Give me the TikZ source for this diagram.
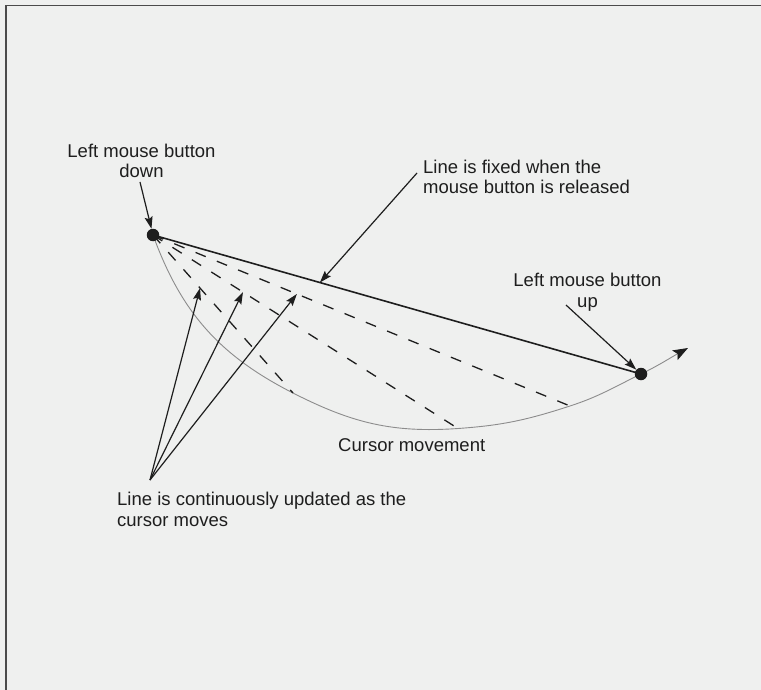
\documentclass[tikz,border=0pt]{standalone}
\usepackage{fontspec}
\setmainfont{Liberation Sans}
\usetikzlibrary{arrows.meta}
\definecolor{paper}{RGB}{239,240,239}
\definecolor{ink}{RGB}{30,30,30}
\definecolor{trail}{RGB}{140,140,140}
\definecolor{framegray}{RGB}{75,75,75}
\begin{document}
\begin{tikzpicture}[x=1pt,y=1pt,
  caption/.style={font=\fontsize{18.5}{20.5}\selectfont, text=ink, inner sep=0pt},
  dot/.style={circle, fill=ink, minimum size=12.5pt, inner sep=0pt},
  pointer/.style={draw=ink, line width=1.2pt, -{Stealth[length=12pt,width=8pt,inset=2pt]}},
  rubber/.style={draw=ink, line width=1.3pt, dash pattern=on 11pt off 12pt},
  fixedline/.style={draw=ink, line width=1.6pt},
  trailline/.style={draw=trail, line width=0.9pt}]
% sheet and frame
\fill[paper] (0,0) rectangle (761,-690);
\useasboundingbox (0,0) rectangle (761,-690);
\draw[framegray, line width=1.5pt] (5.8,-690) -- (5.8,-5.6) -- (761,-5.6);

% press and release points, points along the cursor path
\coordinate (a) at (153,-235);
\coordinate (b) at (641,-374);
\coordinate (P1) at (293,-393);
\coordinate (P2) at (458,-428.5);
\coordinate (P3) at (570,-406);
\coordinate (E) at (688,-348);

% cursor path
\draw[trailline, -{Stealth[length=15pt,width=11pt,inset=3pt,color=ink]}]
  (a) to[out=-70,in=153] (P1) to[out=-27,in=184] (P2)
      to[out=4,in=198] (P3) to[out=18,in=206] (b) to[out=26,in=209] (E);

% rubber-band lines while dragging
\draw[rubber] (a) -- (P1) coordinate[pos=0.336] (t1);
\draw[rubber] (a) -- (P2) coordinate[pos=0.295] (t2);
\draw[rubber] (a) -- (P3) coordinate[pos=0.345] (t3);

% final line
\draw[fixedline] (a) -- (b) coordinate[pos=0.342] (fixTip);

% button events
\node[dot] (A) at (a) {};
\node[dot] (B) at (b) {};

% captions
\node[caption, align=center, anchor=north] (downLbl) at (141.5,-143.5) {Left mouse button\\down};
\node[caption, align=left, anchor=north west] (fixLbl) at (423,-159.5) {Line is fixed when the\\mouse button is released};
\node[caption, align=center, anchor=north] (upLbl) at (587.5,-273) {Left mouse button\\up};
\node[caption, anchor=base west] (cursorLbl) at (338,-451) {Cursor movement};
\node[caption, align=left, anchor=north west] (rubberLbl) at (117,-492) {Line is continuously updated as the\\cursor moves};

% leader tails
\coordinate (downTail) at (140,-182);
\coordinate (fixTail) at (417,-173);
\coordinate (upTail) at (566,-305);
\coordinate (fan) at (150,-480);

% leaders
\draw[pointer] (downTail) -- (A);
\draw[pointer] (fixTail) -- (fixTip);
\draw[pointer] (upTail) -- (B);
\draw[pointer] (fan) -- (t1);
\draw[pointer] (fan) -- (t2);
\draw[pointer] (fan) -- (t3);
\end{tikzpicture}
\end{document}
